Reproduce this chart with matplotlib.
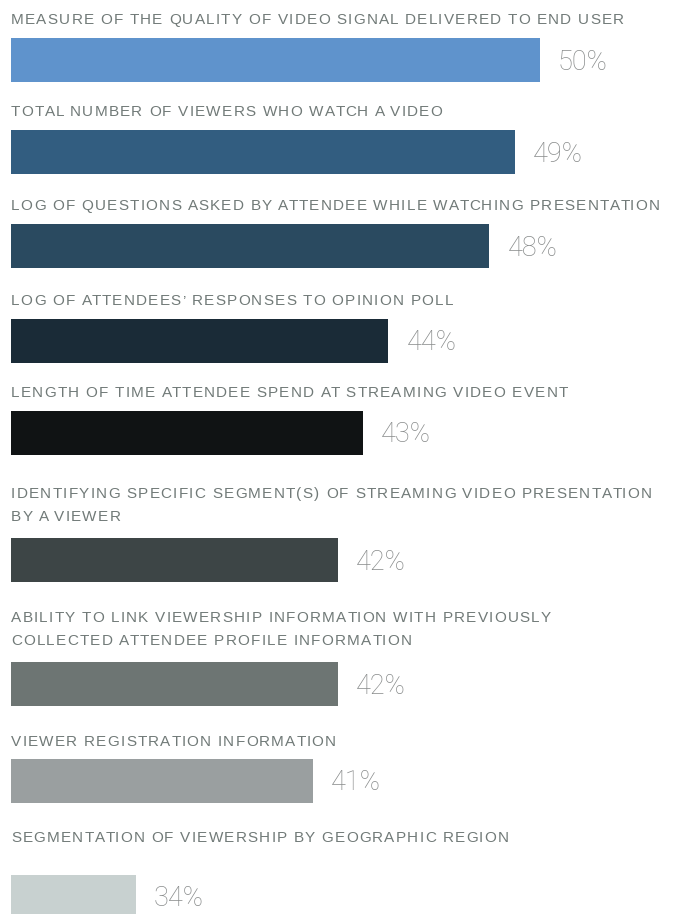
import numpy as np
import matplotlib.pyplot as plt
from matplotlib.font_manager import FontProperties

# survey answers, top to bottom
labels = [
    "MEASURE OF THE QUALITY OF VIDEO SIGNAL DELIVERED TO END USER",
    "TOTAL NUMBER OF VIEWERS WHO WATCH A VIDEO",
    "LOG OF QUESTIONS ASKED BY ATTENDEE WHILE WATCHING PRESENTATION",
    "LOG OF ATTENDEES\u2019 RESPONSES TO OPINION POLL",
    "LENGTH OF TIME ATTENDEE SPEND AT STREAMING VIDEO EVENT",
    "IDENTIFYING SPECIFIC SEGMENT(S) OF STREAMING VIDEO PRESENTATION\nBY A VIEWER",
    "ABILITY TO LINK VIEWERSHIP INFORMATION WITH PREVIOUSLY\nCOLLECTED ATTENDEE PROFILE INFORMATION",
    "VIEWER REGISTRATION INFORMATION",
    "SEGMENTATION OF VIEWERSHIP BY GEOGRAPHIC REGION",
]
values = [50, 49, 48, 44, 43, 42, 42, 41, 34]
colors = ["#5f93cc", "#325d80", "#2a4a60", "#1a2b37", "#101314",
          "#3d4546", "#6d7573", "#9a9fa0", "#c8d1d0"]

# layout in pixels (figure is 673 x 914)
W, H = 673, 914
bar_top = [38, 130, 224, 319, 411, 538, 662, 759, 875]
label_base = [24, 116, 210, 305, 397, 498, 622, 746, 842]
line_gap = 23
bar_h = 44
left_px = 11
px_per_pct = 25.26
base = 29.06   # value axis starts here
tracking = 1.25  # extra px between letters

fig = plt.figure(figsize=(W / 100, H / 100), dpi=100)
ax = fig.add_axes([0, 0, 1, 1])
x0 = base - left_px / px_per_pct
ax.set_xlim(x0, x0 + W / px_per_pct)
ax.set_ylim(H, 0)
ax.axis("off")

vals = np.array(values, dtype=float)
centers = np.array(bar_top) + bar_h / 2
ax.barh(centers, vals - base, left=base, height=bar_h, color=colors)

label_font = FontProperties(family="Liberation Sans", size=11)
renderer = fig.canvas.get_renderer()


def prefix_width(s):
    # width in px of the leading part of a line, trailing spaces included
    if not s:
        return 0.0
    w, _, _ = renderer.get_text_width_height_descent(s + "|", label_font, ismath=False)
    bar_w, _, _ = renderer.get_text_width_height_descent("|", label_font, ismath=False)
    return w - bar_w


def spaced_text(x_px, y_px, line):
    # matplotlib has no letter-spacing, so place the letters one by one
    for k, ch in enumerate(line):
        if ch == " ":
            continue
        xp = x_px + prefix_width(line[:k]) + tracking * k
        ax.text(x0 + xp / px_per_pct, y_px, ch, va="baseline", ha="left",
                fontproperties=label_font, color="#717a78")


for i, lab in enumerate(labels):
    for j, line in enumerate(lab.split("\n")):
        spaced_text(left_px, label_base[i] + j * line_gap, line)
    ax.text(vals[i] + 18 / px_per_pct, centers[i] + 2, f"{values[i]}%", va="center",
            ha="left", fontsize=19.5, color="#888b8b", family="Roboto",
            fontweight="light")

fig.savefig("out.png", dpi=100)
